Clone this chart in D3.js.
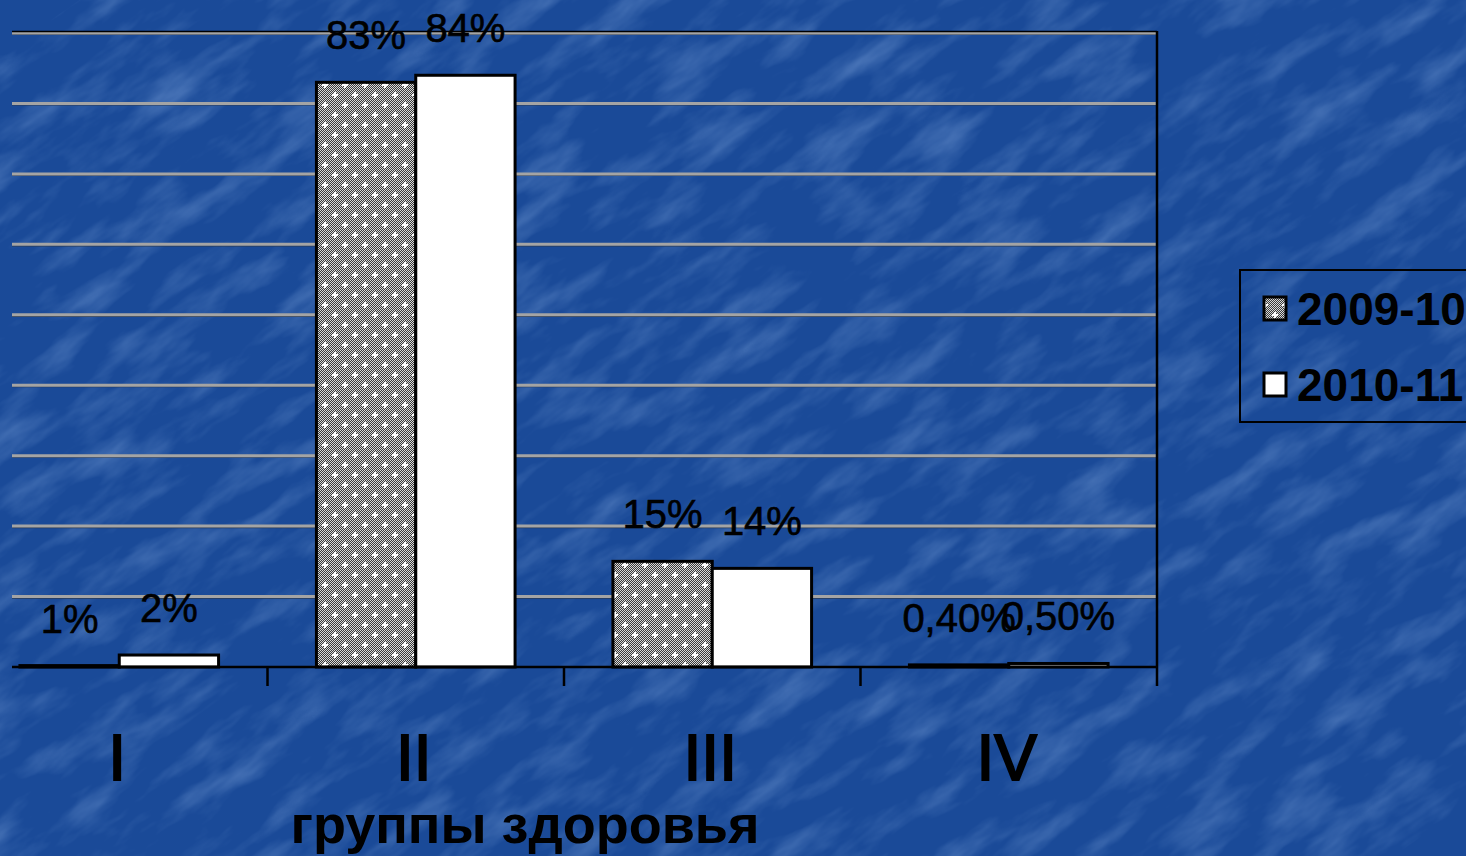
<!DOCTYPE html>
<html><head><meta charset="utf-8">
<script src="https://cdn.jsdelivr.net/npm/d3@7"></script>
<style>html,body{margin:0;padding:0;overflow:hidden;background:#1c4e9e}svg{display:block}</style>
</head><body>
<script>
const categories = ["I", "II", "III", "IV"];
const seriesNames = ["2009-10", "2010-11"];
const values2009 = [0.2, 83, 15, 0.3];
const values2010 = [1.7, 84, 14, 0.5];
const labels2009 = ["1%", "83%", "15%", "0,40%"];
const labels2010 = ["2%", "84%", "14%", "0,50%"];
const yTicks = [0, 10, 20, 30, 40, 50, 60, 70, 80, 90];
const axisTitle = "группы здоровья";

const W = 1466, H = 856;
const plotL = 12, plotR = 1157, plotT = 33, plotB = 667;

const svg = d3.select("body").append("svg").attr("width", W).attr("height", H);
const defs = svg.append("defs");

// background texture
const f = defs.append("filter").attr("id", "tex").attr("x", 0).attr("y", 0).attr("width", "100%").attr("height", "100%");
f.append("feTurbulence").attr("type", "fractalNoise").attr("baseFrequency", "0.02 0.06").attr("numOctaves", 4).attr("seed", 11).attr("result", "n");
f.append("feColorMatrix").attr("in", "n").attr("type", "matrix")
  .attr("values", "0 0 0 0 0.38  0 0 0 0 0.58  0 0 0 0 0.92  1.6 0 0 0 -0.72").attr("result", "c");
f.append("feComposite").attr("in", "c").attr("in2", "SourceGraphic").attr("operator", "in");

svg.append("rect").attr("width", W).attr("height", H).attr("fill", "#1a4a98");
svg.append("rect").attr("width", W).attr("height", H).attr("fill", "#fff").attr("filter", "url(#tex)").attr("opacity", 0.4)
  .attr("transform", "rotate(-35 733 428) scale(1.7) translate(-300 -175)");

// checker pattern
const ck = defs.append("pattern").attr("id", "ck").attr("width", 2).attr("height", 2).attr("patternUnits", "userSpaceOnUse");
ck.append("rect").attr("width", 2).attr("height", 2).attr("fill", "#3a3a3a");
ck.append("rect").attr("width", 1).attr("height", 1).attr("fill", "#d8d8d8");
ck.append("rect").attr("x", 1).attr("y", 1).attr("width", 1).attr("height", 1).attr("fill", "#d8d8d8");
const dp = defs.append("pattern").attr("id", "dots").attr("width", 20).attr("height", 20).attr("patternUnits", "userSpaceOnUse");
dp.append("rect").attr("width", 20).attr("height", 20).attr("fill", "url(#ck)");
[[5, 5], [15, 15]].forEach(([cx, cy]) => {
  dp.append("rect").attr("x", cx - 1).attr("y", cy - 3).attr("width", 2).attr("height", 6).attr("fill", "#fff");
  dp.append("rect").attr("x", cx - 3).attr("y", cy - 1).attr("width", 6).attr("height", 2).attr("fill", "#fff");
});
const fills = ["url(#dots)", "#ffffff"];

const x0 = d3.scaleBand().domain(categories).range([-29, plotR]).paddingInner(0.33).paddingOuter(0.165);
const x1 = d3.scaleBand().domain(seriesNames).range([0, x0.bandwidth()]);
const y = d3.scaleLinear().domain([0, 90]).range([plotB, plotT]);

// gridlines
const grid = svg.append("g");
grid.selectAll("line.s").data(yTicks.slice(1)).join("line")
  .attr("x1", plotL).attr("x2", plotR).attr("y1", d => y(d) + 1.5).attr("y2", d => y(d) + 1.5)
  .attr("stroke", "#2a3a55").attr("stroke-width", 1.2);
grid.selectAll("line.g").data(yTicks.slice(1)).join("line")
  .attr("x1", plotL).attr("x2", plotR).attr("y1", d => y(d)).attr("y2", d => y(d))
  .attr("stroke", "#a4a4a4").attr("stroke-width", 3);
svg.append("line").attr("x1", plotL).attr("x2", plotR).attr("y1", y(90) - 1.5).attr("y2", y(90) - 1.5)
  .attr("stroke", "#000").attr("stroke-width", 1.5);

// bars
const series = [values2009, values2010];
const labs = [labels2009, labels2010];
const g = svg.append("g");
categories.forEach((c, i) => {
  seriesNames.forEach((s, j) => {
    const v = series[j][i];
    const bx = x0(c) + x1(s);
    g.append("rect").attr("x", bx).attr("y", y(v)).attr("width", x1.bandwidth()).attr("height", y(0) - y(v))
      .attr("fill", fills[j]).attr("stroke", "#000").attr("stroke-width", 3);
    g.append("text").attr("x", bx + x1.bandwidth() / 2).attr("y", y(v) - 33)
      .attr("text-anchor", "middle").attr("font-family", "Liberation Sans, Arial, sans-serif")
      .attr("font-size", 40).attr("fill", "#000").attr("stroke", "#000").attr("stroke-width", 0.6)
      .text(labs[j][i]);
  });
});

// axis
svg.append("line").attr("x1", plotL).attr("x2", plotR).attr("y1", plotB).attr("y2", plotB).attr("stroke", "#000").attr("stroke-width", 2.5);
svg.append("line").attr("x1", plotR).attr("x2", plotR).attr("y1", plotT - 2).attr("y2", plotB + 19).attr("stroke", "#000").attr("stroke-width", 2.5);
const tickXs = categories.slice(1).map(c => x0(c) - x0.step() * x0.paddingInner() / 2);
svg.selectAll("line.tk").data(tickXs).join("line")
  .attr("x1", d => d).attr("x2", d => d).attr("y1", plotB).attr("y2", plotB + 19)
  .attr("stroke", "#000").attr("stroke-width", 2.5);

svg.selectAll("text.cat").data(categories).join("text")
  .attr("x", d => x0(d) + x0.bandwidth() / 2 - 2).attr("y", 780)
  .attr("text-anchor", "middle").attr("font-family", "Liberation Sans, Arial, sans-serif")
  .attr("font-size", 64).attr("fill", "#000").attr("stroke", "#000").attr("stroke-width", 2)
  .text(d => d);

svg.append("text").attr("x", 525).attr("y", 843).attr("text-anchor", "middle")
  .attr("font-family", "Liberation Sans, Arial, sans-serif").attr("font-weight", "bold")
  .attr("font-size", 54).attr("fill", "#000").text(axisTitle);

// legend
const lg = svg.append("g");
lg.append("rect").attr("x", 1240).attr("y", 270).attr("width", 260).attr("height", 152)
  .attr("fill", "none").attr("stroke", "#000").attr("stroke-width", 2);
seriesNames.forEach((s, j) => {
  const yy = 297 + j * 76;
  lg.append("rect").attr("x", 1264).attr("y", yy).attr("width", 22).attr("height", 23)
    .attr("fill", fills[j]).attr("stroke", "#000").attr("stroke-width", 3);
  lg.append("text").attr("x", 1297).attr("y", yy + 28).attr("font-family", "Liberation Sans, Arial, sans-serif")
    .attr("font-weight", "bold").attr("font-size", 46).attr("fill", "#000").text(s);
});
</script>
</body></html>
